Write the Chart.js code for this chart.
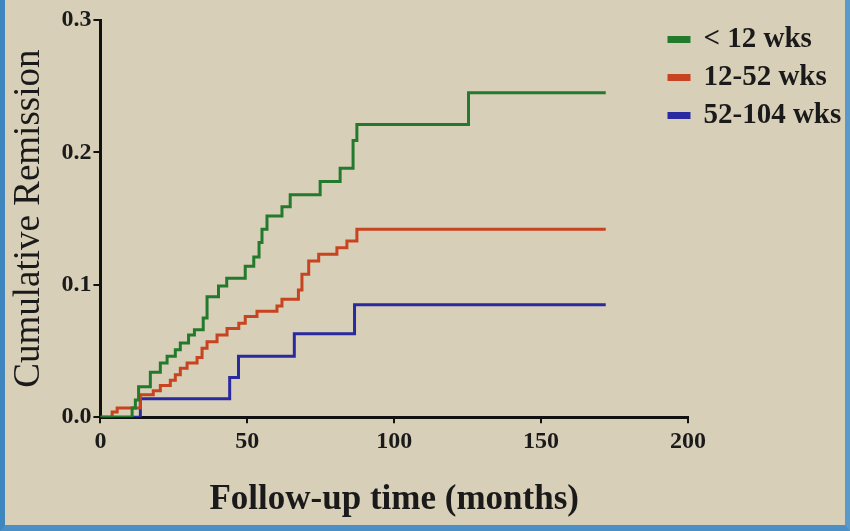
<!DOCTYPE html>
<html>
<head>
<meta charset="utf-8">
<script src="https://cdn.jsdelivr.net/npm/chart.js@4"></script>
<style>
  html, body { margin: 0; padding: 0; background: #4d8fc4; }
  #frame {
    position: absolute; left: 0; top: 0; width: 850px; height: 531px;
    box-sizing: border-box;
    border-left: 5px solid #3f86bf;
    border-right: 5px solid #5a9acb;
    border-bottom: 6px solid #4a8fc6;
    background: #d8cfb8;
  }
  #wrap { position: relative; width: 840px; height: 525px; }
</style>
</head>
<body>
<div id="frame"><div id="wrap"><canvas id="remision"></canvas></div></div>
<script>
// months / cumulative remission
var lt12Months = [0, 10.8, 11.9, 13, 17, 20.4, 22.7, 25.5, 27.2, 30, 32, 35, 36.3, 40.2, 43, 49.3, 52.2, 54, 55, 56.7, 61.8, 64.6, 74.8, 81.6, 86, 87.3, 125.3, 172];
var lt12Values = [0, 0.007, 0.013, 0.023, 0.034, 0.041, 0.046, 0.051, 0.056, 0.062, 0.066, 0.075, 0.091, 0.099, 0.105, 0.114, 0.121, 0.132, 0.142, 0.152, 0.159, 0.168, 0.178, 0.188, 0.209, 0.221, 0.245, 0.245];

var w12Months = [0, 4, 5.7, 13.6, 18, 20.4, 23.8, 25.5, 27.2, 29.5, 32.9, 34.6, 36.3, 39.7, 43.1, 47.1, 49.3, 53.3, 60.1, 61.8, 67.4, 68.6, 70.9, 74.3, 80.5, 83.9, 87.3, 172];
var w12Values = [0, 0.004, 0.007, 0.017, 0.020, 0.024, 0.028, 0.032, 0.037, 0.041, 0.045, 0.052, 0.057, 0.062, 0.067, 0.071, 0.076, 0.080, 0.084, 0.089, 0.096, 0.108, 0.118, 0.123, 0.128, 0.133, 0.142, 0.142];

var w52Months = [0, 13.6, 44, 47, 66, 86.5, 172];
var w52Values = [0, 0.014, 0.030, 0.046, 0.063, 0.085, 0.085];

var seriesNames = ['< 12 wks', '12-52 wks', '52-104 wks'];
var xTicks = [0, 50, 100, 150, 200];
var yTicks = [0, 0.1, 0.2, 0.3];

function puntos(meses, valores) {
	return meses.map(function (m, i) { return { x: m, y: valores[i] }; });
}

var serif = "'Liberation Serif', 'DejaVu Serif', serif";

// nudge the legend so its markers sit just left of the x axis end, like the slide
var moverLeyenda = {
	id: 'moverLeyenda',
	afterLayout: function (chart) {
		var ley = chart.legend;
		ley.left -= 28;
		ley.right = chart.width;
		ley.width = ley.right - ley.left;
		ley.top -= 4;
	}
};

var ctx = document.getElementById('remision').getContext('2d');
var chart = new Chart(ctx, {
	type: 'line',
	data: {
		datasets: [{
			label: seriesNames[0],
			data: puntos(lt12Months, lt12Values),
			borderColor: '#237a2c',
			backgroundColor: '#237a2c'
		}, {
			label: seriesNames[1],
			data: puntos(w12Months, w12Values),
			borderColor: '#c8431f',
			backgroundColor: '#c8431f'
		}, {
			label: seriesNames[2],
			data: puntos(w52Months, w52Values),
			borderColor: '#2a2aa0',
			backgroundColor: '#2a2aa0'
		}]
	},
	options: {
		responsive: true,
		maintainAspectRatio: false,
		animation: false,
		datasets: {
			line: { stepped: 'before', borderWidth: 3, pointRadius: 0, fill: false }
		},
		layout: { padding: { left: 2, top: 20, right: 0, bottom: 4 } },
		scales: {
			x: {
				type: 'linear',
				min: 0, max: 200,
				afterBuildTicks: function (s) { s.ticks = xTicks.map(function (v) { return { value: v }; }); },
				grid: { display: true, drawOnChartArea: false, color: '#111', lineWidth: 2, tickLength: 6 },
				border: { display: true, color: '#111', width: 3 },
				ticks: { color: '#1a1a1a', font: { family: serif, size: 24, weight: 'bold' }, padding: 4 },
				title: {
					display: true, text: 'Follow-up time (months)', color: '#1a1a1a',
					font: { family: serif, size: 35, weight: 'bold' }, padding: { top: 19, bottom: 0 }
				}
			},
			y: {
				min: 0, max: 0.3,
				afterBuildTicks: function (s) { s.ticks = yTicks.map(function (v) { return { value: v }; }); },
				grid: { display: true, drawOnChartArea: false, color: '#111', lineWidth: 2, tickLength: 7 },
				border: { display: true, color: '#111', width: 3 },
				ticks: {
					color: '#1a1a1a', font: { family: serif, size: 24, weight: 'bold' }, padding: 2,
					callback: function (v) { return Number(v).toFixed(1); }
				},
				title: {
					display: true, text: 'Cumulative Remission', color: '#1a1a1a',
					font: { family: serif, size: 37 }, padding: { top: 0, bottom: 8 }
				}
			}
		},
		plugins: {
			legend: {
				position: 'right',
				align: 'start',
				maxWidth: 157,
				labels: {
					boxWidth: 20, boxHeight: 4, padding: 9, color: '#1a1a1a',
					font: { family: serif, size: 29, weight: 'bold' }
				}
			},
			tooltip: { enabled: false }
		}
	},
	plugins: [moverLeyenda]
});
</script>
</body>
</html>
